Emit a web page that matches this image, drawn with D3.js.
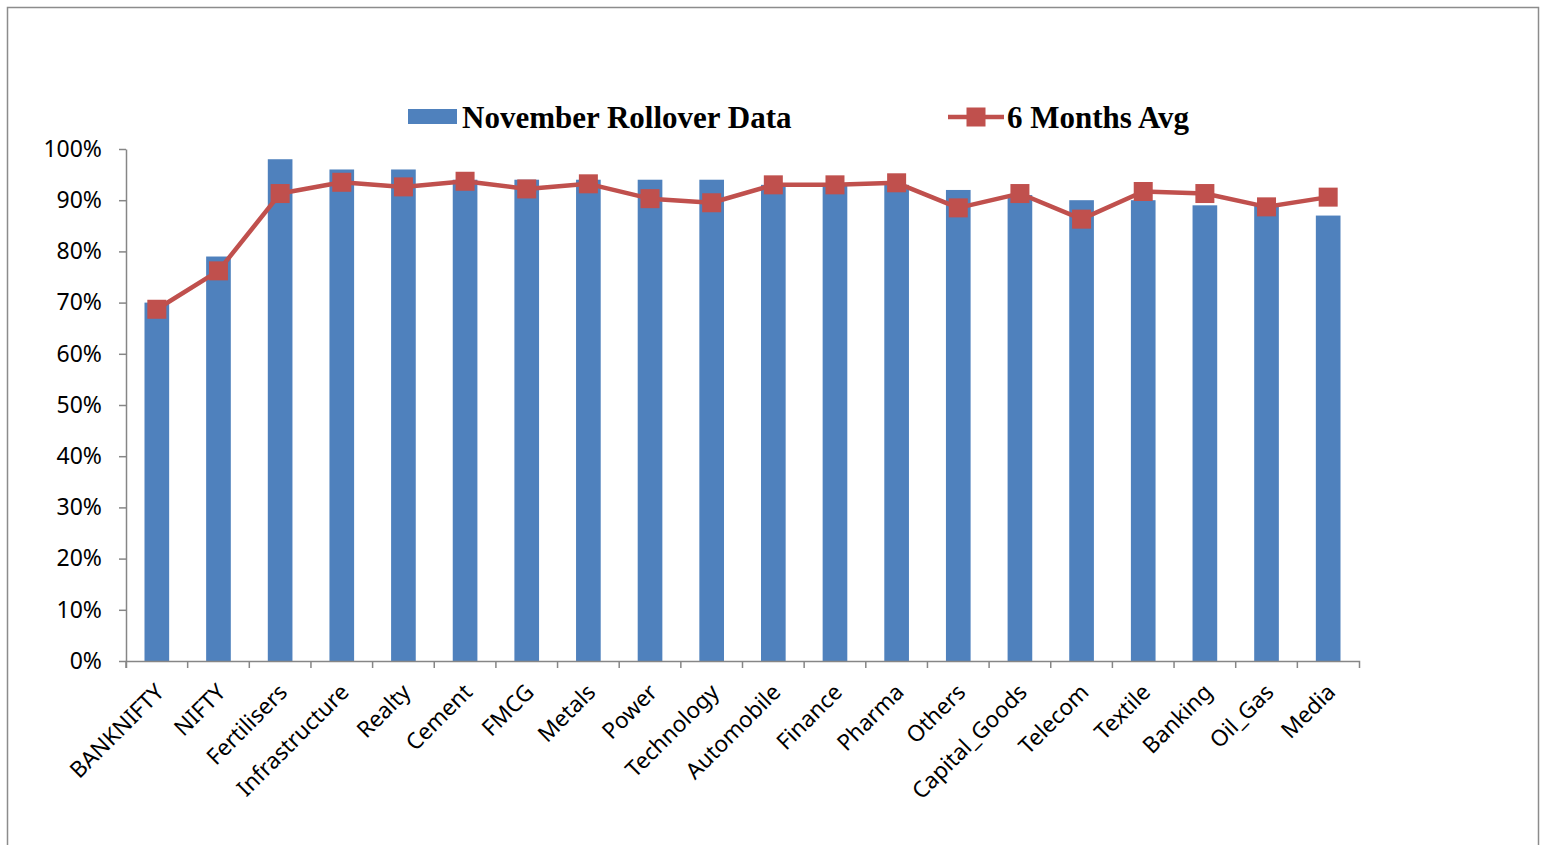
<!DOCTYPE html>
<html lang="en">
<head>
  <meta charset="UTF-8">
  <script src="https://cdnjs.cloudflare.com/ajax/libs/d3/7.8.5/d3.min.js"></script>
  <title>Rollover chart</title>
  <style>
    body { margin: 0; background: #fff; }
  </style>
</head>
<body>
  <div id="chart"></div>
  <script>
    // categories and series
    const sectors = ['BANKNIFTY', 'NIFTY', 'Fertilisers', 'Infrastructure', 'Realty', 'Cement', 'FMCG',
      'Metals', 'Power', 'Technology', 'Automobile', 'Finance', 'Pharma', 'Others', 'Capital_Goods',
      'Telecom', 'Textile', 'Banking', 'Oil_Gas', 'Media'];
    const novRollover = [70, 79, 98, 96, 96, 94, 94, 94, 94, 94, 93, 93, 93, 92, 91, 90, 90, 89, 89, 87];
    const sixMonthAvg = [68.7, 76.2, 91.3, 93.5, 92.6, 93.7, 92.2, 93.2, 90.3, 89.5, 93.0, 93.0, 93.4,
      88.5, 91.3, 86.3, 91.7, 91.3, 88.7, 90.6];
    const yTicks = [0, 10, 20, 30, 40, 50, 60, 70, 80, 90, 100];

    const W = 1544, H = 845;
    const barColor = '#4F81BD', lineColor = '#C0504D', axisColor = '#868686';
    const plot = { left: 126, right: 1359, top: 149, bottom: 661 };

    const svg = d3.select('#chart').append('svg')
      .attr('width', W).attr('height', H);

    // outer frame
    svg.append('rect')
      .attr('x', 7.5).attr('y', 7.5)
      .attr('width', 1531).attr('height', H + 20)
      .attr('fill', 'none').attr('stroke', '#8c8c8c').attr('stroke-width', 1.5);

    const x = d3.scaleBand().domain(sectors).range([plot.left, plot.right]);
    const y = d3.scaleLinear().domain([0, 100]).range([plot.bottom, plot.top]);
    const bw = x.bandwidth();

    // y axis
    const yAxis = svg.append('g')
      .attr('transform', `translate(${plot.left},0)`)
      .call(d3.axisLeft(y).tickValues(yTicks).tickFormat(d => d + '%').tickSize(7).tickSizeOuter(0).tickPadding(17));
    yAxis.selectAll('path, line').attr('stroke', axisColor).attr('stroke-width', 1.5);
    yAxis.selectAll('text')
      .attr('fill', '#000').style('font-family', '"Noto Sans", sans-serif').style('font-size', '23px');

    // bars
    svg.append('g').selectAll('rect')
      .data(sectors)
      .join('rect')
      .attr('x', (d, i) => x(d) + bw * 0.3)
      .attr('width', bw * 0.4)
      .attr('y', (d, i) => y(novRollover[i]))
      .attr('height', (d, i) => y(0) - y(novRollover[i]))
      .attr('fill', barColor);

    // x axis
    const xAxis = svg.append('g')
      .attr('transform', `translate(0,${plot.bottom})`)
      .call(d3.axisBottom(x).tickSize(7).tickSizeOuter(7));
    xAxis.selectAll('path, line').attr('stroke', axisColor).attr('stroke-width', 1.5);
    xAxis.selectAll('.tick line').attr('x1', -bw / 2).attr('x2', -bw / 2);
    xAxis.selectAll('text')
      .attr('x', 0).attr('y', 0).attr('dy', '0.35em')
      .attr('text-anchor', 'end')
      .attr('transform', 'translate(3,27) rotate(-45)')
      .attr('fill', '#000')
      .style('font-family', '"Noto Sans", sans-serif').style('font-size', '22.5px');

    // 6 months average line
    const cx = d => x(d) + bw / 2;
    const line = d3.line().x((d, i) => cx(sectors[i])).y(d => y(d));
    svg.append('path')
      .datum(sixMonthAvg)
      .attr('d', line)
      .attr('fill', 'none').attr('stroke', lineColor).attr('stroke-width', 4.5)
      .attr('stroke-linejoin', 'round');
    svg.append('g').selectAll('rect')
      .data(sixMonthAvg)
      .join('rect')
      .attr('x', (d, i) => cx(sectors[i]) - 9.5)
      .attr('y', d => y(d) - 9.5)
      .attr('width', 19).attr('height', 19)
      .attr('fill', lineColor);

    // legend
    const lg = svg.append('g').style('font-family', '"Liberation Serif", "Times New Roman", serif')
      .style('font-weight', 'bold').style('font-size', '31px');
    lg.append('rect').attr('x', 408).attr('y', 109).attr('width', 49).attr('height', 15).attr('fill', barColor);
    lg.append('text').attr('x', 462).attr('y', 128).text('November Rollover Data');
    lg.append('line').attr('x1', 948).attr('x2', 1004).attr('y1', 117).attr('y2', 117)
      .attr('stroke', lineColor).attr('stroke-width', 4.5);
    lg.append('rect').attr('x', 966.5).attr('y', 107.5).attr('width', 19).attr('height', 19).attr('fill', lineColor);
    lg.append('text').attr('x', 1007).attr('y', 128).text('6 Months Avg');
  </script>
</body>
</html>
